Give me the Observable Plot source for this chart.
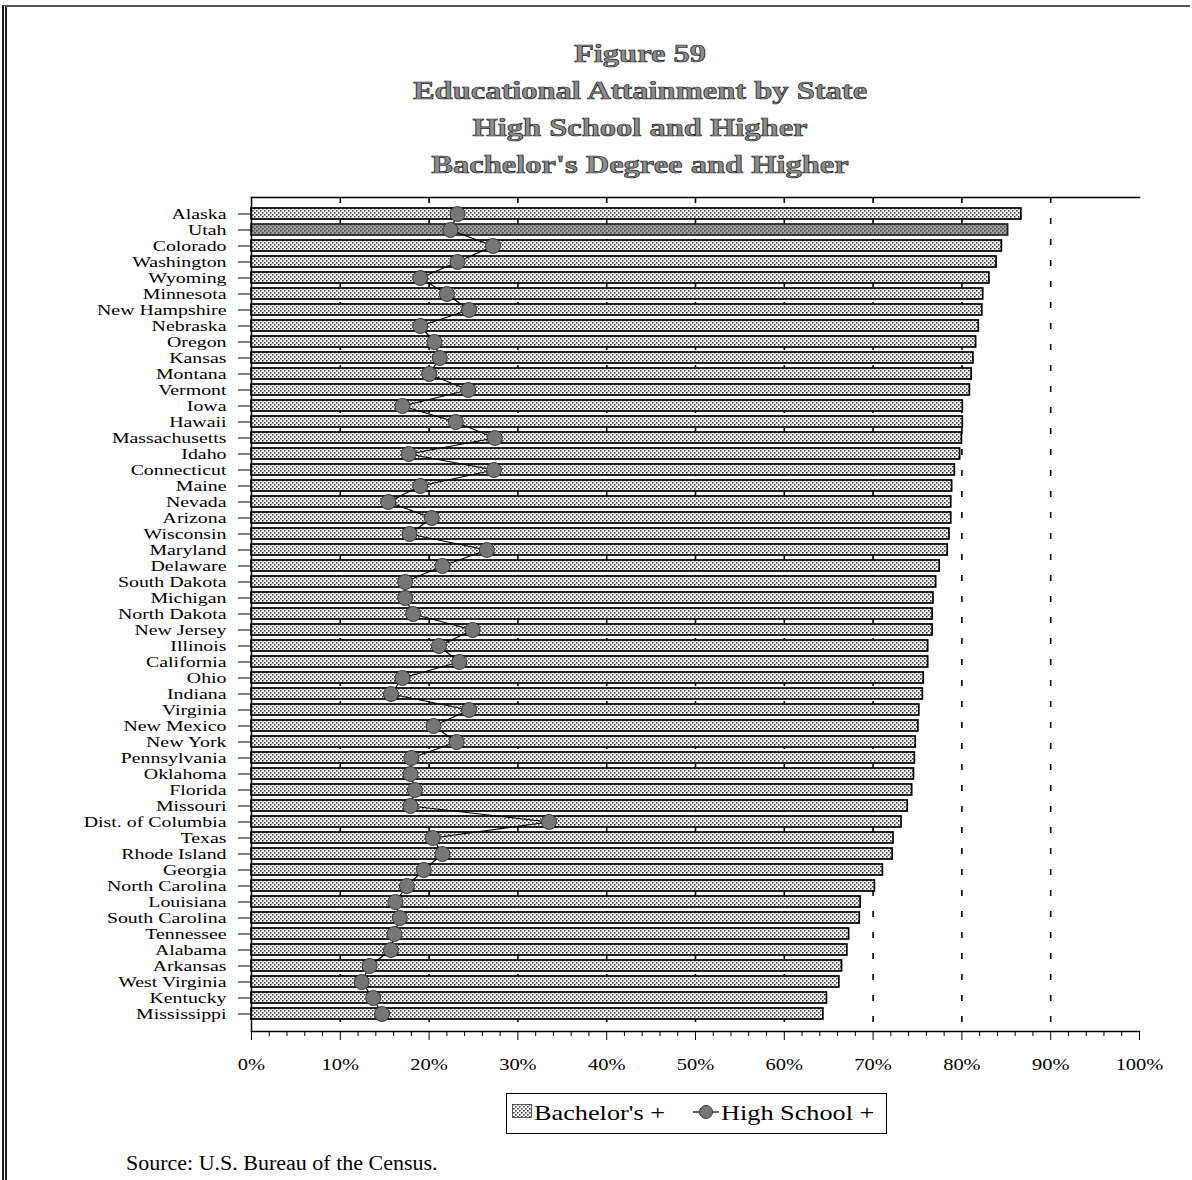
<!DOCTYPE html>
<html>
<head>
<meta charset="utf-8">
<script src="https://cdn.jsdelivr.net/npm/d3@7"></script>
<script src="https://cdn.jsdelivr.net/npm/@observablehq/plot@0.6"></script>
<style>
html,body{margin:0;padding:0;background:#fff;}
body{width:1192px;height:1180px;position:relative;overflow:hidden;font-family:"Liberation Serif","Times New Roman",serif;color:#000;}
#border{position:absolute;left:2px;top:5px;width:1188px;height:1180px;border-left:5px double #222;border-top:2px solid #555;box-sizing:border-box;}
.tl{position:absolute;left:0;width:1280px;text-align:center;font-weight:bold;font-size:26px;line-height:30px;color:#8e8e8e;-webkit-text-stroke:0.7px #1e1e1e;transform:scaleX(1.25);transform-origin:640px 0;white-space:nowrap;}
#chart{position:absolute;left:0;top:190px;}
#legend{position:absolute;left:506px;top:1093px;width:381px;height:41px;border:1.5px solid #000;box-sizing:border-box;}
.lt{position:absolute;top:9px;font-size:21px;line-height:21px;white-space:nowrap;transform:scaleX(1.25);transform-origin:0 0;}
#source{position:absolute;left:126px;top:1152px;font-size:20px;line-height:22px;white-space:nowrap;transform:scaleX(1.1);transform-origin:0 0;}
</style>
</head>
<body>
<div id="border"></div>
<div class="tl" style="top:39px">Figure 59</div>
<div class="tl" style="top:76px">Educational Attainment by State</div>
<div class="tl" style="top:113px">High School and Higher</div>
<div class="tl" style="top:150px">Bachelor's Degree and Higher</div>
<div id="chart"></div>
<div id="legend">
  <svg id="lg" width="378" height="38" style="position:absolute;left:0;top:0"></svg>
  <span class="lt" style="left:27px">Bachelor's +</span>
  <span class="lt" style="left:214px">High School +</span>
</div>
<div id="source">Source: U.S. Bureau of the Census.</div>
<script>
// ---------------- data ----------------
const states = ["Alaska","Utah","Colorado","Washington","Wyoming","Minnesota","New Hampshire","Nebraska","Oregon","Kansas","Montana","Vermont","Iowa","Hawaii","Massachusetts","Idaho","Connecticut","Maine","Nevada","Arizona","Wisconsin","Maryland","Delaware","South Dakota","Michigan","North Dakota","New Jersey","Illinois","California","Ohio","Indiana","Virginia","New Mexico","New York","Pennsylvania","Oklahoma","Florida","Missouri","Dist. of Columbia","Texas","Rhode Island","Georgia","North Carolina","Louisiana","South Carolina","Tennessee","Alabama","Arkansas","West Virginia","Kentucky","Mississippi"];

// bars (legend: "Bachelor's +")
const barSeries = [86.7,85.2,84.5,83.9,83.1,82.4,82.3,81.9,81.6,81.3,81.1,80.9,80.1,80.1,80.0,79.8,79.2,78.9,78.8,78.8,78.6,78.4,77.5,77.1,76.8,76.7,76.7,76.2,76.2,75.7,75.6,75.2,75.1,74.8,74.7,74.6,74.4,73.9,73.2,72.3,72.2,71.1,70.2,68.6,68.5,67.3,67.1,66.5,66.2,64.8,64.4];

// dots + line (legend: "High School +")
const dotSeries = [23.2,22.4,27.2,23.2,19.0,22.0,24.5,19.0,20.6,21.2,20.0,24.4,17.0,23.0,27.4,17.7,27.3,19.0,15.4,20.3,17.8,26.5,21.5,17.3,17.3,18.2,24.9,21.1,23.4,17.0,15.7,24.5,20.5,23.1,18.0,17.9,18.4,17.9,33.5,20.4,21.5,19.4,17.5,16.2,16.7,16.1,15.7,13.3,12.4,13.7,14.7];

const highlighted = ["Utah"];
const xTickValues = [0,10,20,30,40,50,60,70,80,90,100];
const gridValues = [10,20,30,40,50,60,70,80,90];
const minorTickValues = [2,4,6,8,12,14,16,18,22,24,26,28,32,34,36,38,42,44,46,48,52,54,56,58,62,64,66,68,72,74,76,78,82,84,86,88,92,94,96,98];

const data = states.map((s, i) => ({state: s, bar: barSeries[i], dot: dotSeries[i]}));

// ---------------- chart ----------------
const chart = Plot.plot({
  width: 1192,
  height: 891,
  marginLeft: 251,
  marginRight: 53,
  marginTop: 7,
  marginBottom: 50,
  style: {fontFamily: "'Liberation Serif', 'Times New Roman', serif", fontSize: "16px", color: "#000", background: "none", overflow: "visible"},
  x: {domain: [0, 100], label: null},
  y: {domain: states, paddingInner: 0.3, paddingOuter: 0.15, label: null},
  marks: [
    Plot.ruleX(gridValues, {stroke: "#000", strokeWidth: 1.6, strokeDasharray: "6,15"}),
    Plot.barX(data.filter(d => !highlighted.includes(d.state)), {x: "bar", y: "state", fill: "#ddd", stroke: "#000", strokeWidth: 1.7}),
    Plot.barX(data.filter(d => highlighted.includes(d.state)), {x: "bar", y: "state", fill: "#999", stroke: "#222", strokeWidth: 1.7}),
    Plot.line(data, {x: "dot", y: "state", stroke: "#000", strokeWidth: 1.2}),
    Plot.dot(data, {x: "dot", y: "state", r: 7.5, fill: "#767676", stroke: "#3a3a3a", strokeWidth: 1}),
    Plot.frame({anchor: "top", stroke: "#000", strokeWidth: 1.5}),
    Plot.frame({anchor: "left", stroke: "#000", strokeWidth: 1.5}),
    Plot.frame({anchor: "bottom", stroke: "#000", strokeWidth: 1.5}),
    Plot.axisY({tickSize: 13, tickPadding: 12, fontSize: 15.5, label: null}),
    Plot.axisX(minorTickValues, {tickSize: 5, tickFormat: () => "", label: null}),
    Plot.axisX(xTickValues, {tickSize: 9, tickPadding: 18, tickFormat: d => d + "%", fontSize: 16, label: null})
  ]
});
document.getElementById("chart").appendChild(chart);

// patterns
function makePattern(defs, id, bg, dot) {
  const p = defs.append("pattern").attr("id", id).attr("width", 4).attr("height", 4).attr("patternUnits", "userSpaceOnUse");
  p.append("rect").attr("width", 4).attr("height", 4).attr("fill", bg);
  p.append("rect").attr("x", 0).attr("y", 0).attr("width", 1.6).attr("height", 1.6).attr("fill", dot);
  p.append("rect").attr("x", 2).attr("y", 2).attr("width", 1.6).attr("height", 1.6).attr("fill", dot);
}
const svg = d3.select(chart);
const defs = svg.insert("defs", ":first-child");
makePattern(defs, "dotsLight", "#fff", "#3c3c3c");
makePattern(defs, "dotsDark", "#a0a0a0", "#4a4a4a");
const barGroups = svg.selectAll('g[aria-label="bar"]').nodes();
if (barGroups[0]) d3.select(barGroups[0]).attr("fill", "url(#dotsLight)").selectAll("rect").attr("fill", "url(#dotsLight)");
if (barGroups[1]) d3.select(barGroups[1]).attr("fill", "url(#dotsDark)").selectAll("rect").attr("fill", "url(#dotsDark)");

// horizontally stretched serif labels, as in the reference (in place, anchor kept)
svg.selectAll("text").each(function() {
  const t = (this.textContent || "").trim();
  if (!t) return;
  const L = this.getComputedTextLength();
  if (L > 0) {
    this.setAttribute("textLength", (L * 1.28).toFixed(2));
    this.setAttribute("lengthAdjust", "spacingAndGlyphs");
  }
});

// legend symbols
const lg = d3.select("#lg");
const ldefs = lg.append("defs");
makePattern(ldefs, "dotsLegend", "#fff", "#3c3c3c");
lg.append("rect").attr("x", 5.5).attr("y", 10.5).attr("width", 19).attr("height", 13).attr("fill", "url(#dotsLegend)").attr("stroke", "#333").attr("stroke-width", 0.8);
lg.append("line").attr("x1", 186).attr("x2", 212).attr("y1", 18).attr("y2", 18).attr("stroke", "#000").attr("stroke-width", 1.2);
lg.append("circle").attr("cx", 199).attr("cy", 18).attr("r", 6.5).attr("fill", "#767676").attr("stroke", "#3a3a3a");
</script>
</body>
</html>
